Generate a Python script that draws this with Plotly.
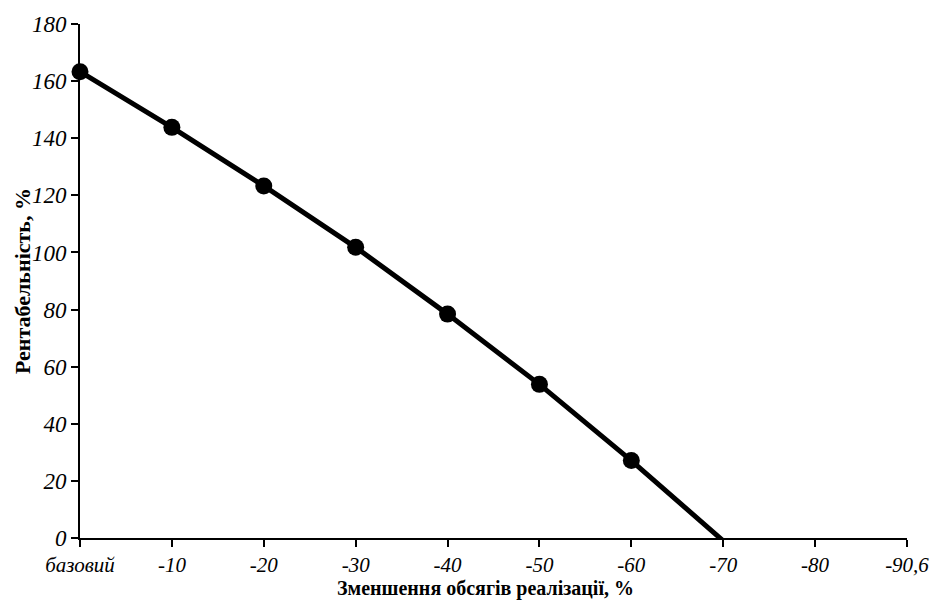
import plotly.graph_objects as go

categories = ["базовий", "-10", "-20", "-30", "-40", "-50", "-60", "-70", "-80", "-90,6"]
profitability = [163.3, 143.8, 123.3, 101.8, 78.4, 53.8, 27.1, -1.0, None, None]

y_ticks = [0, 20, 40, 60, 80, 100, 120, 140, 160, 180]

x_title = "Зменшення обсягів реалізації, %"
y_title = "Рентабельність, %"

FONT = "Liberation Serif, Times New Roman, serif"

line_x = [c for c, v in zip(categories, profitability) if v is not None]
line_y = [v for v in profitability if v is not None]
mk_x = [c for c, v in zip(categories, profitability) if v is not None and v > 0]
mk_y = [v for v in profitability if v is not None and v > 0]

fig = go.Figure()
fig.add_trace(go.Scatter(
    x=line_x, y=line_y, mode="lines",
    line=dict(color="black", width=5),
    cliponaxis=True, showlegend=False, hoverinfo="skip",
))
fig.add_trace(go.Scatter(
    x=mk_x, y=mk_y, mode="markers",
    marker=dict(color="black", size=17, symbol="circle"),
    cliponaxis=False, showlegend=False,
))

fig.update_layout(
    width=941, height=602,
    margin=dict(l=80, r=33, t=20, b=64),
    paper_bgcolor="white", plot_bgcolor="white",
    font=dict(family=FONT, color="black"),
    xaxis=dict(
        type="category", categoryorder="array", categoryarray=categories,
        range=[0, len(categories) - 1],
        showline=True, linecolor="black", linewidth=2,
        ticks="outside", ticklen=7, tickwidth=2, tickcolor="black",
        showgrid=False, zeroline=False,
        tickfont=dict(family=FONT, size=21, style="italic"),
    ),
    yaxis=dict(
        range=[0, 180], tickvals=y_ticks,
        showline=True, linecolor="black", linewidth=2,
        ticks="outside", ticklen=7, tickwidth=2, tickcolor="black",
        showgrid=False, zeroline=False,
        tickfont=dict(family=FONT, size=23, style="italic"),
    ),
    annotations=[
        dict(text=f"<b>{x_title}</b>", xref="paper", yref="paper",
             x=0.49, y=-0.099, xanchor="center", yanchor="middle",
             showarrow=False, font=dict(family=FONT, size=20)),
        dict(text=f"<b>{y_title}</b>", xref="paper", yref="paper",
             x=-0.07, y=0.5, xanchor="center", yanchor="middle", textangle=-90,
             showarrow=False, font=dict(family=FONT, size=22)),
    ],
)

fig.write_html("out.html")
